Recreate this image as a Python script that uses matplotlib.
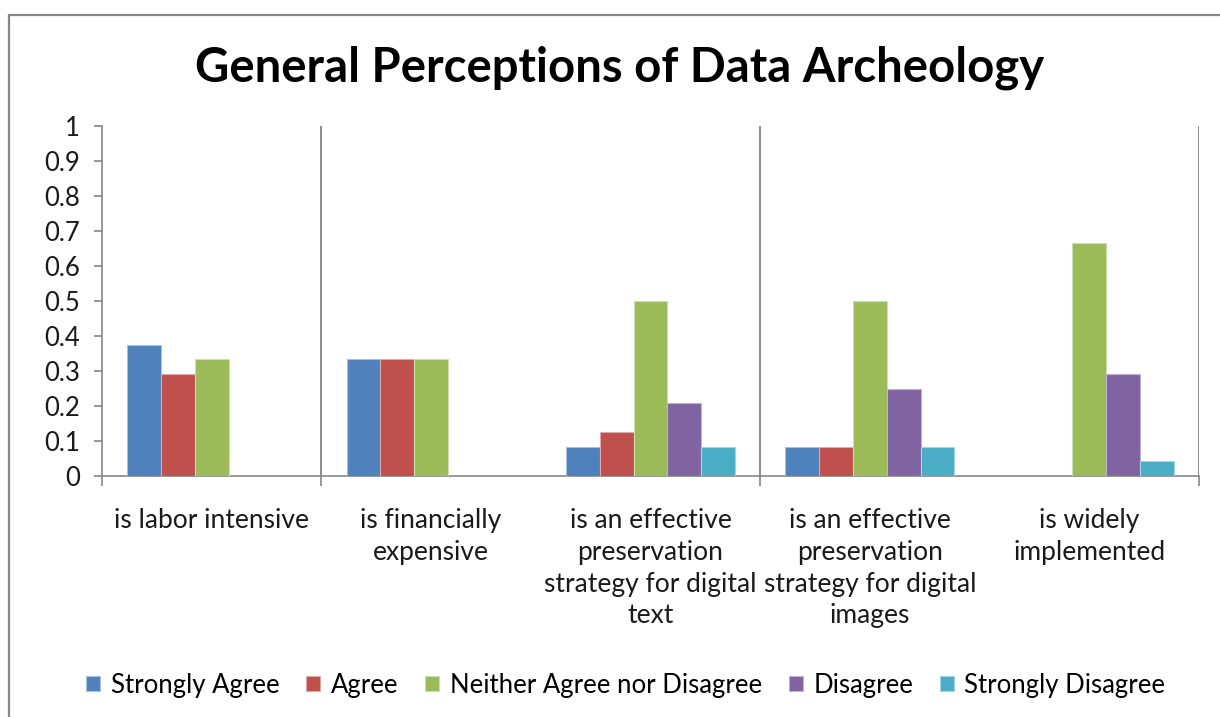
import matplotlib
matplotlib.use("Agg")
import matplotlib.pyplot as plt
import numpy as np
from matplotlib.patches import Rectangle

plt.rcParams['font.family'] = ['Lato', 'DejaVu Sans']

title = "General Perceptions of Data Archeology"
categories = [
    "is labor intensive",
    "is financially\nexpensive",
    "is an effective\npreservation\nstrategy for digital\ntext",
    "is an effective\npreservation\nstrategy for digital\nimages",
    "is widely\nimplemented",
]
series_names = ["Strongly Agree", "Agree", "Neither Agree nor Disagree",
                "Disagree", "Strongly Disagree"]
strongly_agree = [0.375, 0.333, 0.083, 0.083, 0.0]
agree = [0.292, 0.333, 0.125, 0.083, 0.0]
neither = [0.333, 0.333, 0.5, 0.5, 0.667]
disagree = [0.0, 0.0, 0.208, 0.25, 0.292]
strongly_disagree = [0.0, 0.0, 0.083, 0.083, 0.042]
series = [strongly_agree, agree, neither, disagree, strongly_disagree]
colors = ["#4F81BD", "#C0504D", "#9BBB59", "#8064A2", "#4BACC6"]
edges = ["#A7C0DE", "#DFA8A6", "#CDDDAC", "#BFB1D0", "#A5D5E2"]
yticks = [0, 0.1, 0.2, 0.3, 0.4, 0.5, 0.6, 0.7, 0.8, 0.9, 1]
ytick_labels = ["0", "0.1", "0.2", "0.3", "0.4", "0.5", "0.6", "0.7", "0.8", "0.9", "1"]

W, H = 1220, 717
fig = plt.figure(figsize=(W / 100, H / 100), dpi=100)
fig.patch.set_facecolor("white")

# outer chart frame
fig.patches.append(Rectangle((8.5 / W, -0.1), 1.2, 1 - 14.5 / H + 0.1,
                             transform=fig.transFigure, fill=False,
                             edgecolor="#868686", linewidth=1.6, zorder=0))

ax = fig.add_axes([102 / W, 1 - 476 / H, (1199 - 102) / W, (476 - 126) / H])

x = np.arange(len(categories))
bw = 0.154
n = len(series)
for i, (vals, c, ec, name) in enumerate(zip(series, colors, edges, series_names)):
    off = (i - (n - 1) / 2) * bw
    ax.bar(x + off, vals, width=bw, color=c, edgecolor=ec, linewidth=0.8,
           label=name, zorder=3)

ax.set_xlim(-0.5, len(categories) - 0.5)
ax.set_ylim(0, 1)
ax.set_yticks(yticks)
ax.set_yticklabels(ytick_labels)

ax.set_xticks(x)
ax.set_xticklabels(categories, fontsize=19, linespacing=1.34, color="#1a1a1a")
ax.tick_params(axis="x", length=0, pad=23)
ax.set_xticks([-0.5, 0.5, 2.5, 4.5], minor=True)
ax.tick_params(axis="x", which="minor", length=7, color="#868686", width=1.2)
ax.tick_params(axis="y", length=6, color="#868686", width=1.2, labelsize=18.5,
               labelcolor="#1a1a1a", pad=10)

for xv in [0.5, 2.5, 4.5]:
    ax.axvline(xv, color="#8c8c8c", linewidth=1.4, zorder=1)

for s in ["top", "right"]:
    ax.spines[s].set_visible(False)
for s in ["left", "bottom"]:
    ax.spines[s].set_color("#868686")
    ax.spines[s].set_linewidth(1.2)

fig.text(0.508, 1 - 68 / H, title, ha="center", va="center",
         fontsize=34, fontweight="bold", color="black")

fig.legend(loc="center", bbox_to_anchor=(0.513, 1 - 685 / H), ncol=5,
           frameon=False, fontsize=18.5, handlelength=0.55, handleheight=0.55,
           handletextpad=0.4, columnspacing=1.05)

fig.savefig("out.png", dpi=100, facecolor="white")
